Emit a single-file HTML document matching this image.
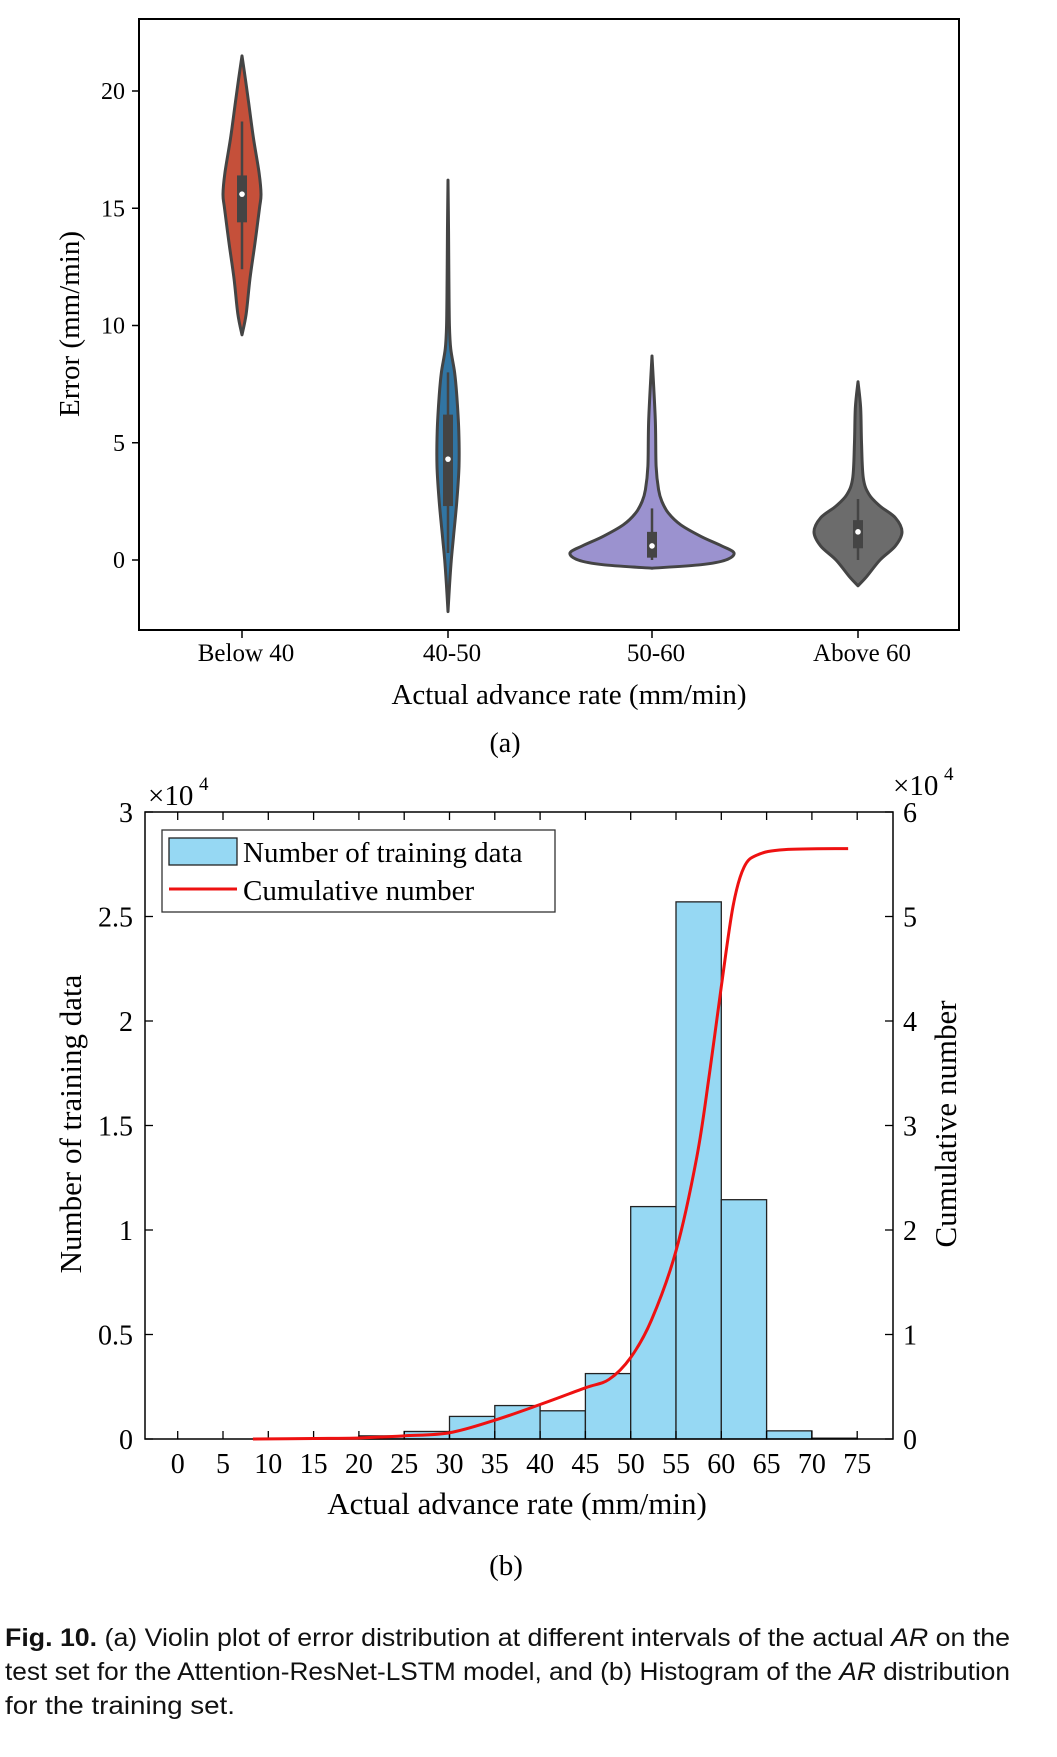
<!DOCTYPE html>
<html><head><meta charset="utf-8"><style>
body{margin:0;background:#fff;}
svg{display:block;font-family:"Liberation Serif",serif;}
</style></head><body>
<svg id="fig" width="1057" height="1757" viewBox="0 0 1057 1757" xmlns="http://www.w3.org/2000/svg">
<g id="pa"></g>
<g id="pb"></g>
<g font-family="'Liberation Sans',sans-serif" font-size="25" fill="#111">
<text x="5" y="1646" textLength="1005" lengthAdjust="spacingAndGlyphs"><tspan font-weight="bold">Fig. 10.</tspan>  (a) Violin plot of error distribution at different intervals of the actual <tspan font-style="italic">AR</tspan> on the</text>
<text x="5" y="1680" textLength="1005" lengthAdjust="spacingAndGlyphs">test set for the Attention-ResNet-LSTM model, and (b) Histogram of the <tspan font-style="italic">AR</tspan> distribution</text>
<text x="5" y="1714" textLength="230" lengthAdjust="spacingAndGlyphs">for the training set.</text>
</g>
</svg>
<script>
// ---------- Chart (a) data ----------
const violinCats = ["Below 40","40-50","50-60","Above 60"];
const violinColors = ["#c5503a","#3175a3","#9b92cf","#6c6c6c"];
const violinProfile0 = [[9.6,0],[10.5,0.22],[12,0.42],[13.5,0.68],[15,0.92],[15.6,1],[16.5,0.9],[18,0.6],[19.5,0.35],[20.5,0.18],[21.5,0]];
const violinProfile1 = [[-2.2,0],[-1,0.15],[0,0.3],[1,0.5],[2.5,0.8],[4,1],[5.5,0.98],[7,0.8],[8,0.6],[9,0.25],[10,0.13],[12,0.08],[14,0.05],[16.2,0]];
const violinProfile2 = [[-0.35,0],[-0.2,0.6],[0,0.9],[0.3,1],[0.6,0.85],[1,0.6],[1.5,0.35],[2,0.2],[2.5,0.12],[3,0.08],[4,0.05],[6,0.04],[8.7,0]];
const violinProfile3 = [[-1.1,0],[-0.7,0.2],[0,0.5],[0.6,0.85],[1.2,1],[1.8,0.85],[2.3,0.5],[2.8,0.25],[3.5,0.12],[5,0.08],[6.5,0.06],[7.6,0]];
const violinProfiles = [violinProfile0,violinProfile1,violinProfile2,violinProfile3];
const violinQ1 = [14.4,2.3,0.1,0.5];
const violinQ3 = [16.4,6.2,1.2,1.7];
const violinMedian = [15.6,4.3,0.6,1.2];
const violinWhiskLo = [12.4,0.3,0,0];
const violinWhiskHi = [18.7,8,2.2,2.6];
const violinMaxHalf = [19,11,82,44];
const errTicks = [0,5,10,15,20];

// ---------- Chart (b) data ----------
const binStarts = [10,15,20,25,30,35,40,45,50,55,60,65,70];
const binCounts = [0.003,0.004,0.015,0.036,0.108,0.16,0.135,0.313,1.112,2.57,1.145,0.039,0.004];
const cumX = [8.3,15,20,25,30,35,40,45,47.6,50,52.3,55,57.3,58.7,60,61.3,62.5,64,67,74];
const cumY = [0,0.005,0.01,0.03,0.06,0.18,0.33,0.49,0.57,0.78,1.14,1.8,2.7,3.5,4.33,5.1,5.47,5.59,5.64,5.65];
const xTicks = [0,5,10,15,20,25,30,35,40,45,50,55,60,65,70,75];
const leftTicks = [0,0.5,1,1.5,2,2.5,3];
const leftTickLabels = ["0","0.5","1","1.5","2","2.5","3"];
const rightTicks = [0,1,2,3,4,5,6];

const NS="http://www.w3.org/2000/svg";
function mk(parent,tag,attrs,text){const e=document.createElementNS(NS,tag);for(const k in attrs)e.setAttribute(k,attrs[k]);if(text!==undefined)e.textContent=text;parent.appendChild(e);return e;}
function smooth(pts){
 let d='M'+pts[0][0]+','+pts[0][1];
 for(let i=0;i<pts.length-1;i++){
  const p0=pts[Math.max(0,i-1)],p1=pts[i],p2=pts[i+1],p3=pts[Math.min(pts.length-1,i+2)];
  const c1=[p1[0]+(p2[0]-p0[0])/6,p1[1]+(p2[1]-p0[1])/6];
  const c2=[p2[0]-(p3[0]-p1[0])/6,p2[1]-(p3[1]-p1[1])/6];
  d+=' C'+c1[0]+','+c1[1]+' '+c2[0]+','+c2[1]+' '+p2[0]+','+p2[1];
 }
 return d;
}

// ---- (a) ----
(function(){
const g=document.getElementById('pa');
const L=139,R=959,T=19,B=630;
const yA=v=>560-(v/20)*469;
const xA=i=>[242,448,652,858][i];
let e;
e=mk(g,'rect',{x:L,y:T,width:R-L,height:B-T,fill:'none',stroke:'#000','stroke-width':2});

errTicks.forEach(v=>{
 e=mk(g,'line',{x1:L,x2:L-7,y1:yA(v),y2:yA(v),stroke:'#000','stroke-width':1.5});
 
 e=mk(g,'text',{x:L-14,y:yA(v)+8,'text-anchor':'end','font-size':24},String(v));
 
});
violinCats.forEach((c,i)=>{
 const cx=xA(i),p=violinProfiles[i],h=violinMaxHalf[i];
 const right=p.map(q=>[cx+q[1]*h,yA(q[0])]);
 const left=p.slice().reverse().map(q=>[cx-q[1]*h,yA(q[0])]);
 const d=smooth(right)+' '+smooth(left).replace('M','L')+'Z';
 e=mk(g,'path',{d:d,fill:violinColors[i],stroke:'#444','stroke-width':3,'stroke-linejoin':'round'});
 
 e=mk(g,'line',{x1:cx,x2:cx,y1:yA(violinWhiskLo[i]),y2:yA(violinWhiskHi[i]),stroke:'#444','stroke-width':2.5});
 
 e=mk(g,'rect',{x:cx-5,y:yA(violinQ3[i]),width:10,height:yA(violinQ1[i])-yA(violinQ3[i]),fill:'#444'});
 
 e=mk(g,'circle',{cx:cx,cy:yA(violinMedian[i]),r:2.8,fill:'#fff'});
 
 e=mk(g,'line',{x1:cx,x2:cx,y1:B,y2:B+8,stroke:'#000','stroke-width':1.5});
 
 e=mk(g,'text',{x:cx+4,y:661,'text-anchor':'middle','font-size':25},c);
 
});
e=mk(g,'text',{x:569,y:704,'text-anchor':'middle','font-size':29},'Actual advance rate (mm/min)');

e=mk(g,'text',{x:0,y:0,'text-anchor':'middle','font-size':29,transform:'translate(79,324) rotate(-90)'},'Error (mm/min)');

e=mk(g,'text',{x:505,y:752,'text-anchor':'middle','font-size':28},'(a)');

})();

// ---- (b) ----
(function(){
const g=document.getElementById('pb');
const L=145,R=893,T=812,B=1439;
const xB=v=>177.7+v*9.06;
const yL=v=>B-(v/3)*(B-T);
const yR=v=>B-(v/6)*(B-T);
let e;
binStarts.forEach((s,i)=>{
 e=mk(g,'rect',{x:xB(s),y:yL(binCounts[i]),width:xB(s+5)-xB(s),height:B-yL(binCounts[i]),fill:'#96d8f3',stroke:'#222','stroke-width':1.3});
 
});
e=mk(g,'rect',{x:L,y:T,width:R-L,height:B-T,fill:'none',stroke:'#000','stroke-width':1.5});

xTicks.forEach(v=>{
 e=mk(g,'line',{x1:xB(v),x2:xB(v),y1:B,y2:B-8,stroke:'#000','stroke-width':1.3});
 
 e=mk(g,'line',{x1:xB(v),x2:xB(v),y1:T,y2:T+8,stroke:'#000','stroke-width':1.3});
 
 e=mk(g,'text',{x:xB(v),y:1473,'text-anchor':'middle','font-size':28},String(v));
 
});
leftTicks.forEach((v,i)=>{
 e=mk(g,'line',{x1:L,x2:L+8,y1:yL(v),y2:yL(v),stroke:'#000','stroke-width':1.3});
 
 e=mk(g,'text',{x:L-12,y:yL(v)+10,'text-anchor':'end','font-size':28},leftTickLabels[i]);
 
});
rightTicks.forEach(v=>{
 e=mk(g,'line',{x1:R,x2:R-8,y1:yR(v),y2:yR(v),stroke:'#000','stroke-width':1.3});
 
 e=mk(g,'text',{x:R+10,y:yR(v)+10,'text-anchor':'start','font-size':28},String(v));
 
});
const d=smooth(cumX.map((x,i)=>[xB(x),yR(cumY[i])]));
e=mk(g,'path',{d:d,fill:'none',stroke:'#ee1111','stroke-width':3,'stroke-linejoin':'round'});

// legend
e=mk(g,'rect',{x:162,y:830,width:393,height:82,fill:'#fff',stroke:'#333','stroke-width':1.3});

e=mk(g,'rect',{x:169,y:838,width:68,height:27,fill:'#96d8f3',stroke:'#222','stroke-width':1.3});

e=mk(g,'text',{x:243,y:862,'font-size':29},'Number of training data');

e=mk(g,'line',{x1:169,x2:237,y1:889,y2:889,stroke:'#ee1111','stroke-width':3});

e=mk(g,'text',{x:243,y:900,'font-size':29},'Cumulative number');

// exponents
e=mk(g,'text',{x:148,y:805,'font-size':29},'\u00d710');

e=mk(g,'text',{x:199,y:790,'font-size':19},'4');

e=mk(g,'text',{x:893,y:795,'font-size':29},'\u00d710');

e=mk(g,'text',{x:944,y:780,'font-size':19},'4');

e=mk(g,'text',{x:517,y:1514,'text-anchor':'middle','font-size':31},'Actual advance rate (mm/min)');

e=mk(g,'text',{x:0,y:0,'text-anchor':'middle','font-size':31,transform:'translate(81,1124) rotate(-90)'},'Number of training data');

e=mk(g,'text',{x:0,y:0,'text-anchor':'middle','font-size':31,transform:'translate(956,1124) rotate(-90)'},'Cumulative number');

e=mk(g,'text',{x:506,y:1575,'text-anchor':'middle','font-size':29},'(b)');

})();
</script>
</body></html>
